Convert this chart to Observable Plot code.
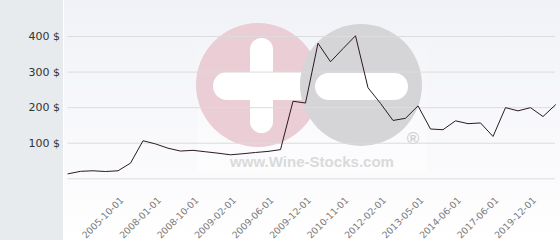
<!DOCTYPE html>
<html>
<head>
<meta charset="utf-8">
<script src="https://cdn.jsdelivr.net/npm/d3@7"></script>
<script src="https://cdn.jsdelivr.net/npm/@observablehq/plot@0.6"></script>
<style>
  html, body { margin: 0; padding: 0; background: #fff; }
  #wrap { position: relative; width: 560px; height: 240px; overflow: hidden; }
  #bg, #chart { position: absolute; left: 0; top: 0; }
</style>
</head>
<body>
<div id="wrap">
  <svg id="bg" width="560" height="240"></svg>
  <div id="chart"></div>
</div>
<script>
// Price series (one point per observation, evenly spaced on a category axis)
const prices = [14, 21, 22.5, 20.5, 22.5, 44, 107, 98, 86, 78,
                80, 76, 72, 67.5, 70.5, 74, 77, 82, 218, 213,
                381, 329, 366, 402, 256, 212, 164, 170, 205, 140,
                138, 163, 155, 157, 119, 200, 191, 200, 175, 208];
// Labelled categories (index into prices) and their labels
const tickIndex = [4, 7, 10, 13, 16, 19, 22, 25, 28, 31, 34, 37];
const tickLabels = ["2005-10-01", "2008-01-01", "2008-10-01", "2009-02-01", "2009-06-01", "2009-12-01",
                    "2010-11-01", "2012-02-01", "2013-05-01", "2014-06-01", "2017-06-01", "2019-12-01"];
const yTicks = [100, 200, 300, 400];
const gridValues = [0, 100, 200, 300, 400];

const series = prices.map((v, i) => ({i, v}));
const ticks = tickIndex.map((i, k) => ({i, label: tickLabels[k]}));

// Background panels + watermark (decorative)
const bg = document.getElementById("bg");
bg.innerHTML = `
  <defs>
    <linearGradient id="pg" x1="0" y1="0" x2="0" y2="1">
      <stop offset="0" stop-color="#f1f2f7"/>
      <stop offset="0.75" stop-color="#fbfbfd"/>
      <stop offset="1" stop-color="#ffffff"/>
    </linearGradient>
    <linearGradient id="wg" x1="0" y1="0" x2="0" y2="1">
      <stop offset="0" stop-color="#ffffff" stop-opacity="0"/>
      <stop offset="0.6" stop-color="#ffffff" stop-opacity="0.2"/>
      <stop offset="1" stop-color="#ffffff" stop-opacity="0.55"/>
    </linearGradient>
  </defs>
  <rect x="0" y="0" width="63" height="240" fill="#e7ebee"/>
  <rect x="63" y="0" width="1" height="240" fill="#ffffff"/>
  <rect x="64" y="0" width="496" height="240" fill="url(#pg)"/>
  <rect x="197" y="12" width="230" height="161" fill="url(#wg)"/>
  <circle cx="258" cy="85" r="62" fill="#eacdd5"/>
  <rect x="250" y="38" width="23" height="95" rx="11.5" fill="#ffffff"/>
  <rect x="213" y="72" width="100" height="28" rx="14" fill="#ffffff"/>
  <circle cx="361" cy="85" r="61" fill="#d5d5d8"/>
  <rect x="315" y="73" width="93" height="27" rx="13.5" fill="#ffffff"/>
  <text x="230" y="167" textLength="164" lengthAdjust="spacingAndGlyphs" font-family="Liberation Sans, Arial, sans-serif" font-weight="bold" font-size="15" fill="#dadadb">www.Wine-Stocks.com</text>
  <text x="413" y="144" text-anchor="middle" font-family="Liberation Sans, Arial, sans-serif" font-weight="bold" font-size="17" fill="#d0d0d2">®</text>
`;

const chart = Plot.plot({
  width: 560,
  height: 240,
  marginLeft: 67.5,
  marginRight: 5,
  marginTop: 36,
  marginBottom: 61.7,
  style: {background: "transparent", fontFamily: "DejaVu Sans, sans-serif", overflow: "visible"},
  x: {type: "linear", domain: [0, prices.length - 1], axis: null},
  y: {domain: [0, 400]},
  marks: [
    Plot.ruleY(gridValues, {stroke: "#dcdcdc", strokeWidth: 1}),
    Plot.axisY(yTicks, {tickSize: 0, tickPadding: 8, tickFormat: d => d + " $", fontSize: 11, fill: "#333", label: null}),
    Plot.line(series, {x: "i", y: "v", stroke: "#2b1a22", strokeWidth: 1}),
    Plot.text(ticks, {x: "i", y: () => 0, text: "label", rotate: -45, textAnchor: "end", lineAnchor: "middle",
                      dx: 4, dy: 20, fontSize: 9.3, fill: "#7a7a7a"})
  ]
});
document.getElementById("chart").appendChild(chart);
</script>
</body>
</html>
